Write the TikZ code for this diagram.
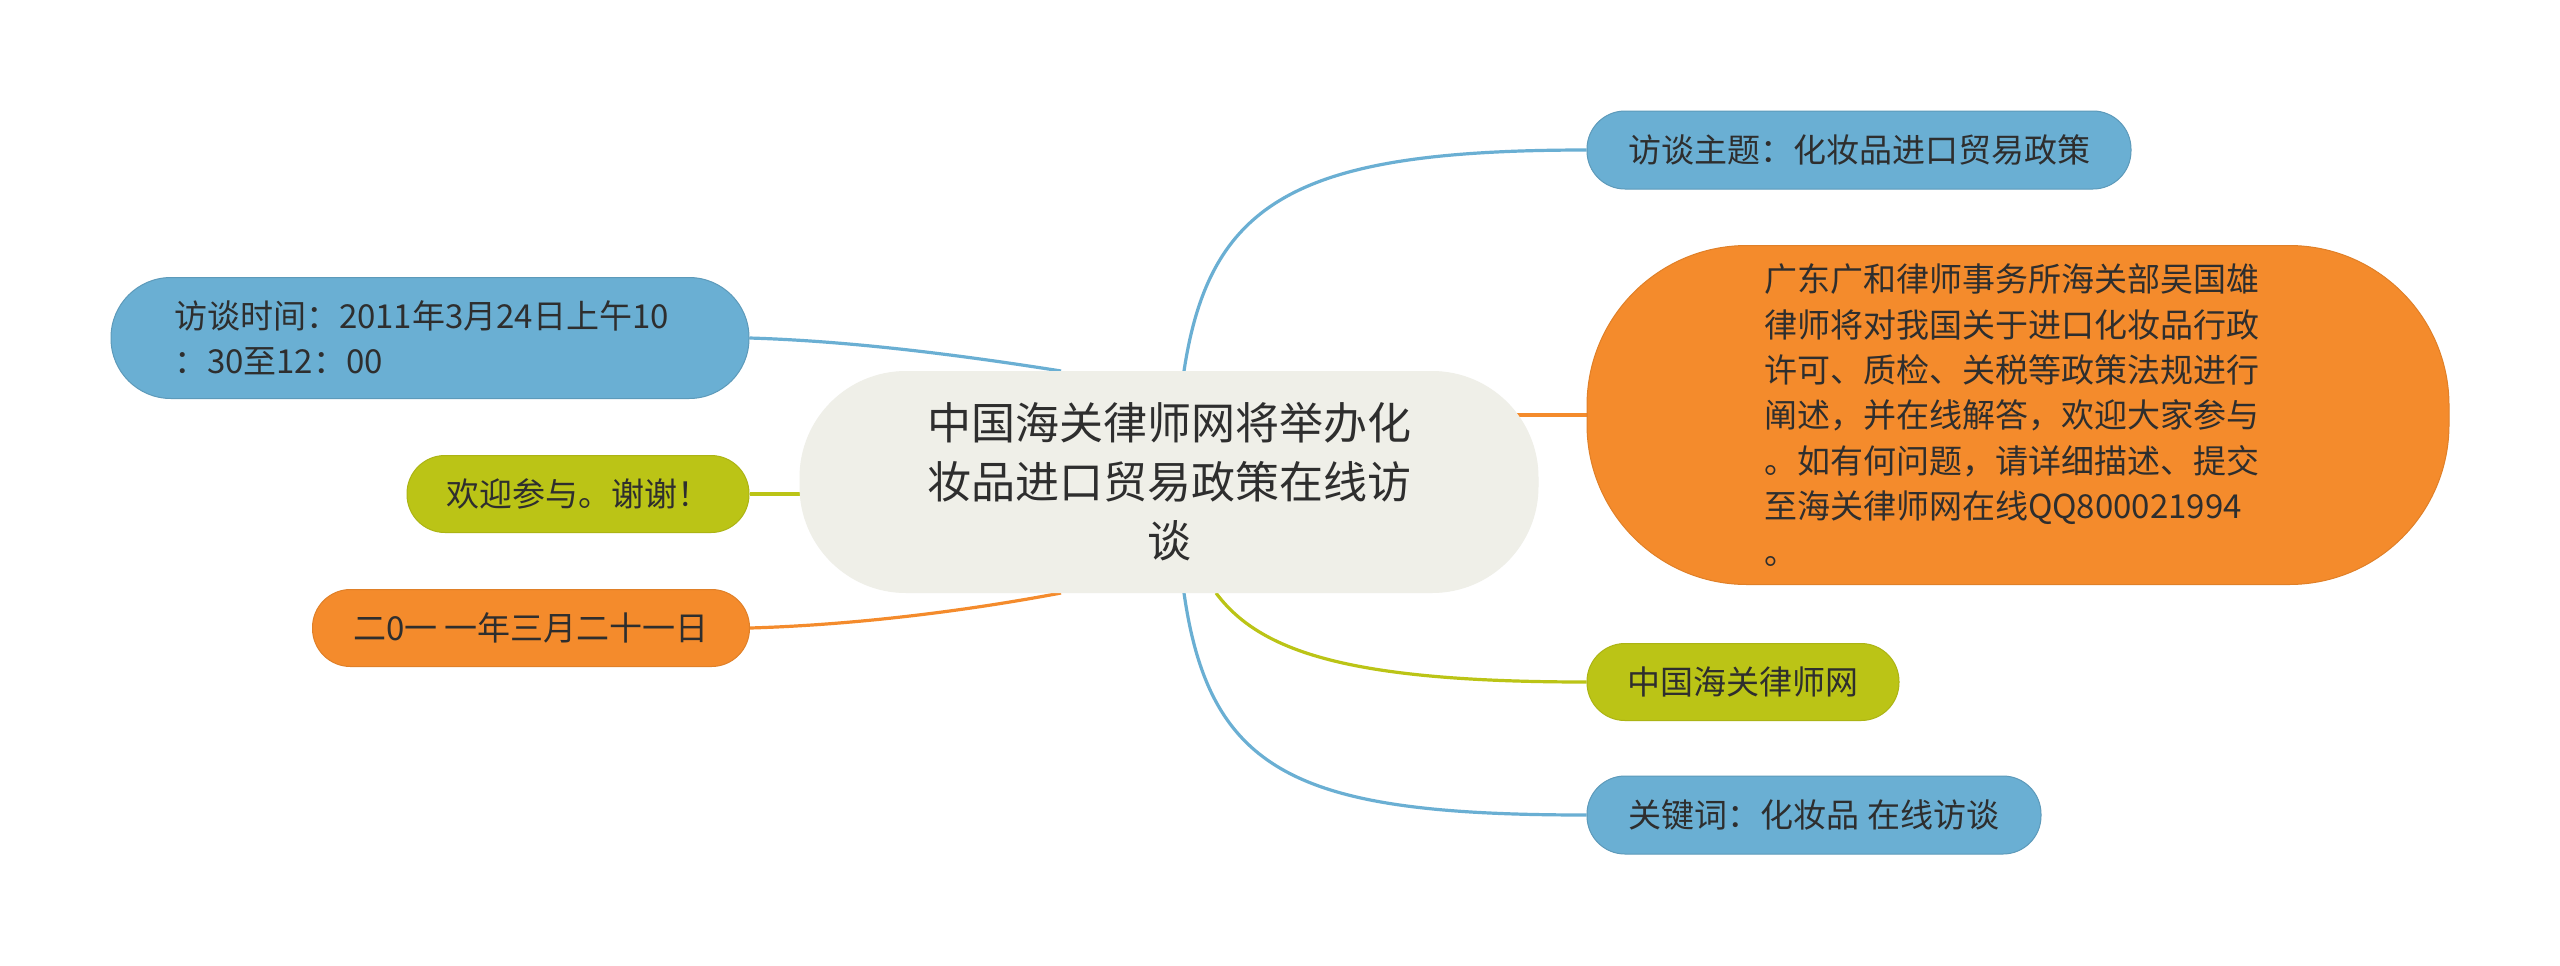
\documentclass[tikz,border=0pt]{standalone}
\usepackage{fontspec}
\setmainfont{Noto Sans CJK SC}
\usetikzlibrary{calc}
\definecolor{cblue}{HTML}{6AAFD3}
\definecolor{corange}{HTML}{F48B2C}
\definecolor{cgreen}{HTML}{BBC416}
\definecolor{ccenter}{HTML}{EFEFE8}
\definecolor{ctext}{HTML}{2E2E2E}
\pgfdeclarelayer{bg}
\pgfsetlayers{bg,main}
\begin{document}
\begin{tikzpicture}[x=0.5pt,y=-0.5pt,
  box/.style={inner sep=0pt, text=ctext, font=\fontsize{16.5pt}{22.7pt}\selectfont,
    minimum height=38.5pt, rounded corners=19pt, line width=0.5pt},
  bluebox/.style={box, fill=cblue, draw=cblue!88!black},
  orangebox/.style={box, fill=corange, draw=corange!92!black},
  greenbox/.style={box, fill=cgreen, draw=cgreen!92!black},
  centerbox/.style={box, fill=ccenter, draw=ccenter, font=\fontsize{22pt}{29.5pt}\selectfont},
  link/.style={line width=1.6pt}
]
\useasboundingbox (0,0) rectangle (2560,965);

\node[centerbox, minimum width=369pt, minimum height=110.5pt, rounded corners=53pt, align=center] (c) at (1169,482)
  {中国海关律师网将举办化\\妆品进口贸易政策在线访\\谈};

\node[bluebox, minimum width=272pt, minimum height=39pt] (t) at (1859,150) {访谈主题：化妆品进口贸易政策};

\node[orangebox, minimum width=431pt, minimum height=169.5pt, rounded corners=80pt, align=left, text width=254pt] (d) at (2018,415)
  {广东广和律师事务所海关部吴国雄\\律师将对我国关于进口化妆品行政\\许可、质检、关税等政策法规进行\\阐述，并在线解答，欢迎大家参与\\。如有何问题，请详细描述、提交\\至海关律师网在线QQ800021994\\。};

\node[greenbox, minimum width=156pt] (w) at (1743,682) {中国海关律师网};

\node[bluebox, minimum width=227pt, minimum height=39pt] (k) at (1814,815) {关键词：化妆品 在线访谈};

\node[bluebox, minimum width=319pt, minimum height=60.5pt, rounded corners=30pt, align=left, text width=256pt] (tm) at (430,338)
  {访谈时间：2011年3月24日上午10\\：30至12：00};

\node[greenbox, minimum width=171pt] (wl) at (578,494) {欢迎参与。谢谢！};

\node[orangebox, minimum width=218.5pt] (dt) at (531,628) {二0一 一年三月二十一日};

\begin{pgfonlayer}{bg}
\fill[white] (0,0) rectangle (2560,965);
\draw[link, cblue] ([xshift=7.5pt]c.north) .. controls +(26,-172) and +(-287,0) .. (t.west);
\draw[link, corange] (c.center |- d.west) -- (d.west);
\draw[link, cgreen] ([xshift=23.5pt]c.south) .. controls +(44,59) and +(-237,0) .. (w.west);
\draw[link, cblue] ([xshift=7.5pt]c.south) .. controls +(26,182) and +(-287,0) .. (k.west);
\draw[link, cblue] (tm.east) .. controls +(101,3) and +(-101,-16) .. ([xshift=-54pt]c.north);
\draw[link, cgreen] (wl.east) -- (c.center |- wl.east);
\draw[link, corange] (dt.east) .. controls +(101,-3) and +(-101,19) .. ([xshift=-54pt]c.south);
\end{pgfonlayer}
\end{tikzpicture}
\end{document}
